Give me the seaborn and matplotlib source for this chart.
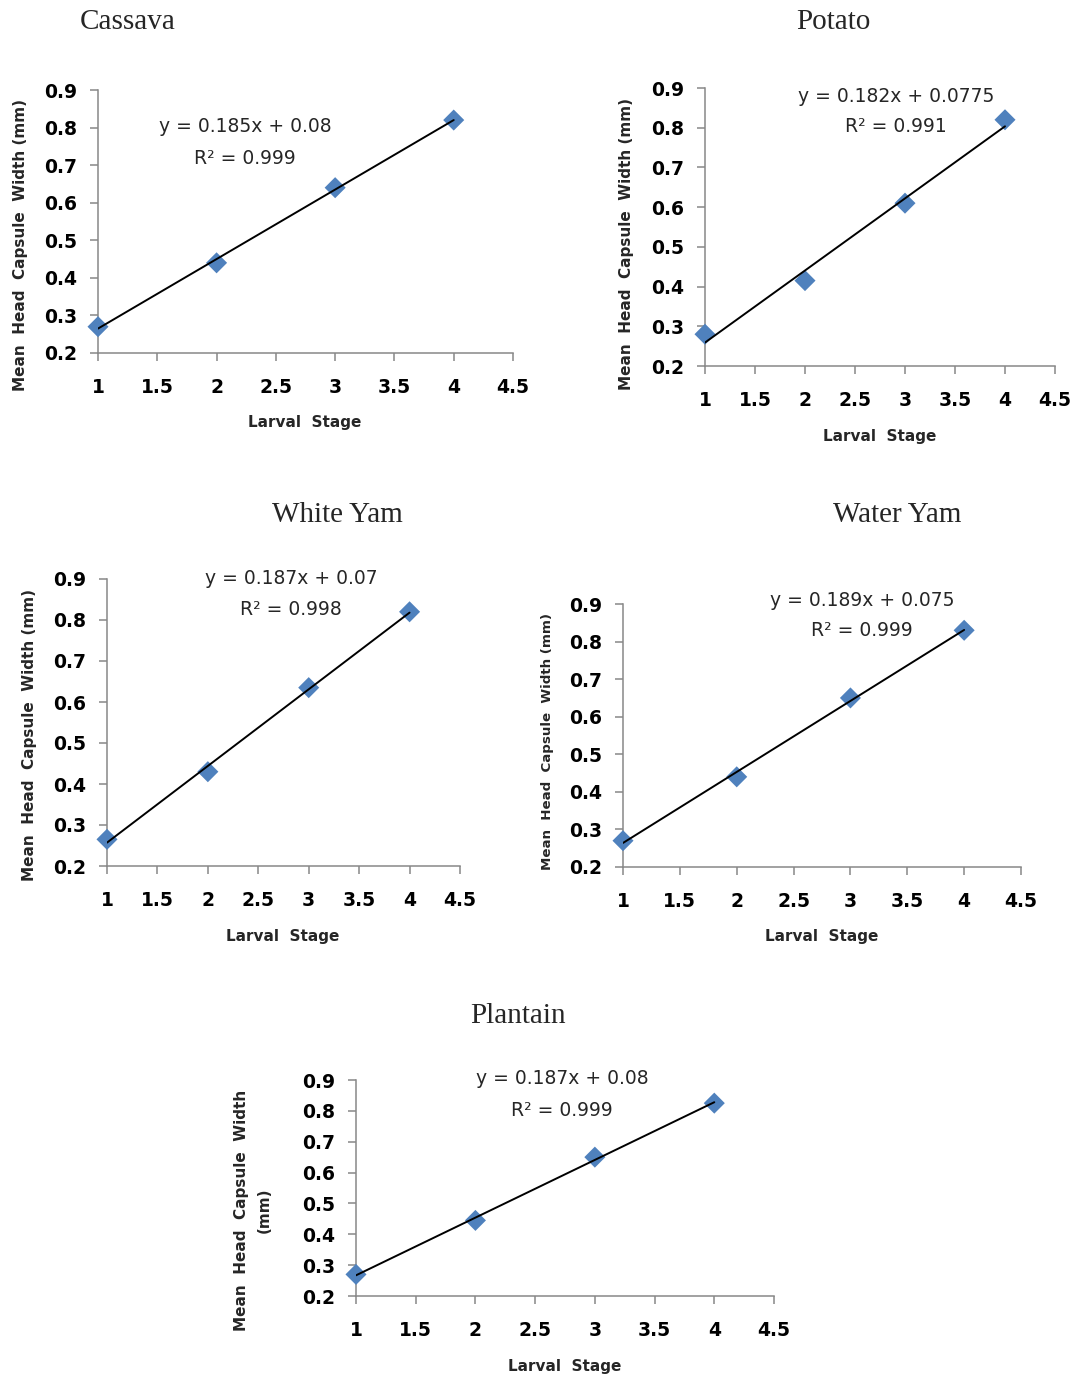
import numpy as np
import pandas as pd
import matplotlib
matplotlib.use("Agg")
import matplotlib.pyplot as plt
import seaborn as sns

# ---------------- data ----------------
crops = ["Cassava", "Potato", "White Yam", "Water Yam", "Plantain"]
stages = [1, 2, 3, 4]
cassava = [0.27, 0.44, 0.64, 0.82]
potato = [0.28, 0.415, 0.61, 0.82]
white_yam = [0.265, 0.43, 0.635, 0.82]
water_yam = [0.27, 0.44, 0.65, 0.83]
plantain = [0.27, 0.445, 0.65, 0.825]
equations = ["y = 0.185x + 0.08", "y = 0.182x + 0.0775", "y = 0.187x + 0.07",
             "y = 0.189x + 0.075", "y = 0.187x + 0.08"]
r_squared = ["0.999", "0.991", "0.998", "0.999", "0.999"]
x_ticks = [1, 1.5, 2, 2.5, 3, 3.5, 4, 4.5]
y_ticks = [0.2, 0.3, 0.4, 0.5, 0.6, 0.7, 0.8, 0.9]
x_label = "Larval  Stage"
y_labels = ["Mean  Head  Capsule  Width (mm)"] * 4 + ["Mean  Head  Capsule  Width\n(mm)"]

series = [cassava, potato, white_yam, water_yam, plantain]

# ---------------- style ----------------
sns.set_style("ticks")
plt.rcParams["font.family"] = ["DejaVu Sans"]

W, H = 1076, 1380
fig = plt.figure(figsize=(W / 100, H / 100), dpi=100)

# layout in pixels: axes box (left, top, right, bottom), title centre,
# equation centre, xlabel centre, ylabel centre, ylabel size, ylabel linespacing
layout = [
    dict(box=(98, 90, 513, 353), title=(128, 22), eq=(245, 127), xl=(305, 422), yl=(21, 245), ys=11, ls=1.15),
    dict(box=(705, 88, 1055, 366), title=(833, 22), eq=(896, 96), xl=(880, 436), yl=(627, 244), ys=11, ls=1.15),
    dict(box=(107, 579, 460, 866), title=(337, 515), eq=(291, 579), xl=(283, 936), yl=(30, 735), ys=11, ls=1.15),
    dict(box=(623, 604, 1021, 867), title=(897, 515), eq=(862, 600), xl=(822, 937), yl=(548, 742), ys=9.6, ls=1.15),
    dict(box=(356, 1080, 774, 1296), title=(518, 1016), eq=(562, 1079), xl=(565, 1366), yl=(253, 1210), ys=11, ls=1.65),
]

spine_col = "#888888"
marker_col = "#4F81BD"

for crop, vals, eq, r2, ylab, L in zip(crops, series, equations, r_squared, y_labels, layout):
    l, t, r, b = L["box"]
    ax = fig.add_axes([l / W, 1 - b / H, (r - l) / W, (b - t) / H])
    df = pd.DataFrame({"stage": stages, "width": vals})
    sns.regplot(data=df, x="stage", y="width", ax=ax, ci=None, scatter=False,
                truncate=True, line_kws=dict(color="black", lw=1.4, zorder=4))
    sns.scatterplot(data=df, x="stage", y="width", ax=ax, marker="D", s=115,
                    color=marker_col, edgecolor="none", clip_on=False, zorder=3)
    ax.set_xlim(1, 4.5)
    ax.set_ylim(0.2, 0.9)
    ax.set_xticks(x_ticks)
    ax.set_xticklabels([f"{v:g}" for v in x_ticks])
    ax.set_yticks(y_ticks)
    ax.set_yticklabels([f"{v:.1f}" for v in y_ticks])
    for s in ["top", "right"]:
        ax.spines[s].set_visible(False)
    for s in ["left", "bottom"]:
        ax.spines[s].set_color(spine_col)
        ax.spines[s].set_linewidth(1.1)
    ax.tick_params(axis="x", length=6, width=1.1, color=spine_col, pad=12,
                   labelsize=13.5, labelcolor="black")
    ax.tick_params(axis="y", length=6, width=1.1, color=spine_col, pad=9,
                   labelsize=13.5, labelcolor="black")
    for lab in ax.get_xticklabels() + ax.get_yticklabels():
        lab.set_fontweight("bold")

    # axis labels positioned by pixel centre
    ax.set_xlabel(x_label, fontsize=11, fontweight="bold", va="center")
    ax.xaxis.set_label_coords((L["xl"][0] - l) / (r - l), (b - L["xl"][1]) / (b - t))
    ax.set_ylabel(ylab, fontsize=L["ys"], fontweight="bold", va="center",
                  linespacing=L["ls"])
    ax.yaxis.set_label_coords((L["yl"][0] - l) / (r - l), (b - L["yl"][1]) / (b - t))

    # trendline equation
    ex, ey = L["eq"]
    ax.text((ex - l) / (r - l), (b - ey) / (b - t), eq, transform=ax.transAxes,
            ha="center", va="center", fontsize=13.5)
    ax.text((ex - l) / (r - l), (b - ey - 31) / (b - t), f"R\u00b2 = {r2}",
            transform=ax.transAxes, ha="center", va="center", fontsize=13.5)

    # panel title
    fig.text(L["title"][0] / W, 1 - L["title"][1] / H, crop, ha="center", va="center",
             fontsize=21, family="Liberation Serif")

fig.savefig("out.png", dpi=100, facecolor="white")
